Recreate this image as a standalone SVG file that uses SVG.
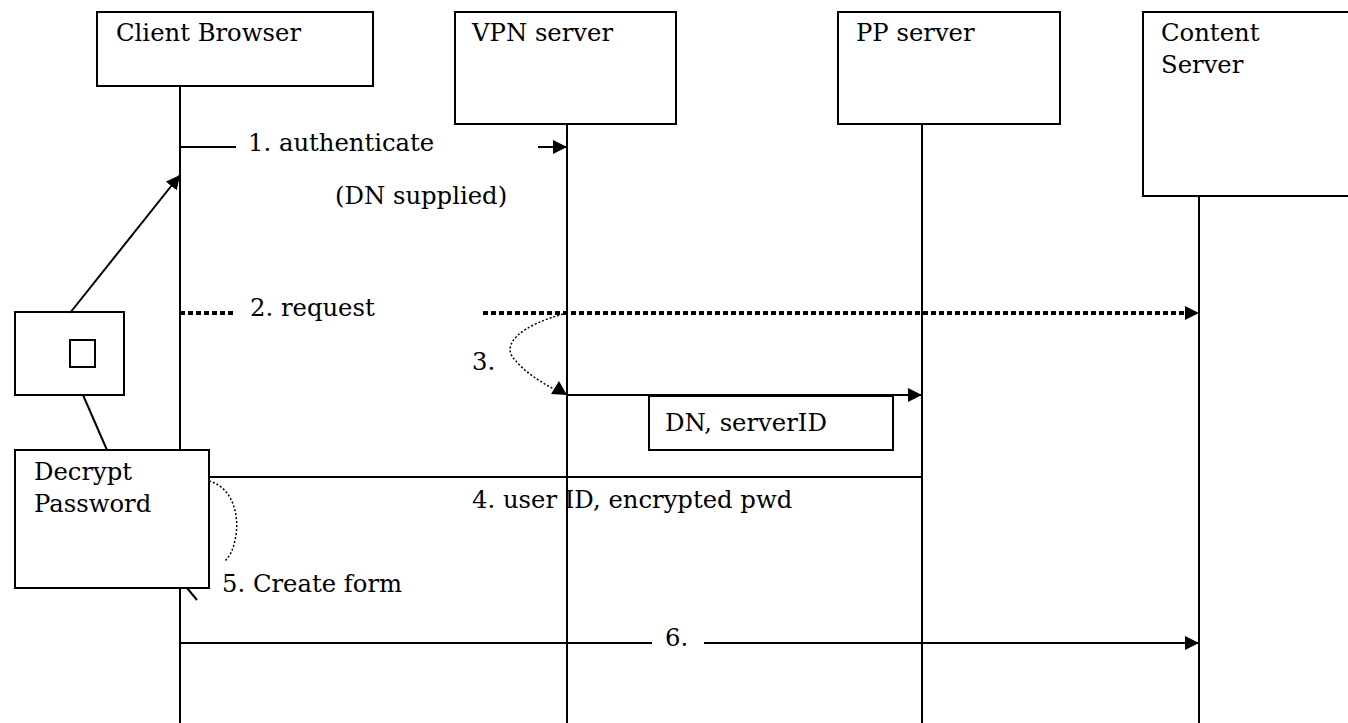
<svg xmlns="http://www.w3.org/2000/svg" width="1348" height="723" viewBox="0 0 1348 723">
<defs>
<style>
.box{fill:#fff;stroke:#000;stroke-width:2}
.life{stroke:#000;stroke-width:2;fill:none}
.msg{stroke:#000;stroke-width:2;fill:none}
.dots{stroke:#000;stroke-width:4;stroke-dasharray:5 3;fill:none}
.fine{stroke:#000;stroke-width:1.5;stroke-dasharray:2 2;fill:none}
text{font-family:"DejaVu Serif","Liberation Serif",serif;font-size:24.3px;fill:#000}
</style>
<marker id="ah" viewBox="0 0 10 10" refX="10" refY="5" markerWidth="14" markerHeight="14" markerUnits="userSpaceOnUse" orient="auto">
<path d="M0,0 L10,5 L0,10 z" fill="#000"/>
</marker>
</defs>
<g id="lifelines">
<line class="life" x1="180" y1="86" x2="180" y2="723"/>
<line class="life" x1="567" y1="124" x2="567" y2="723"/>
<line class="life" x1="922" y1="124" x2="922" y2="723"/>
<line class="life" x1="1199" y1="196" x2="1199" y2="723"/>
</g>
<g id="client"><rect class="box" x="97" y="12" width="276" height="74"/><text x="116" y="41">Client Browser</text></g>
<g id="vpn"><rect class="box" x="455" y="12" width="221" height="112"/><text x="472" y="41">VPN server</text></g>
<g id="pp"><rect class="box" x="838" y="12" width="222" height="112"/><text x="856" y="41">PP server</text></g>
<g id="content"><rect class="box" x="1143" y="12" width="215" height="184"/><text x="1161" y="41">Content</text><text x="1161" y="73">Server</text></g>
<g id="smallbox"><rect class="box" x="15" y="312" width="109" height="83"/><rect class="box" x="70" y="340" width="25" height="27"/></g>
<g id="decrypt"><rect class="box" x="15" y="450" width="194" height="138"/><text x="34" y="480">Decrypt</text><text x="34" y="512">Password</text></g>
<g id="dnbox"><rect class="box" x="649" y="396" width="244" height="54"/><text x="665" y="431">DN, serverID</text></g>
<g id="connectors">
<line class="msg" x1="180" y1="147" x2="236" y2="147"/>
<line class="msg" x1="538" y1="147" x2="567" y2="147" marker-end="url(#ah)"/>
<line class="msg" x1="70" y1="313" x2="180" y2="175" marker-end="url(#ah)"/>
<line class="msg" x1="83" y1="395" x2="107" y2="450"/>
<line class="dots" x1="180" y1="313" x2="236" y2="313"/>
<line class="dots" x1="483" y1="313" x2="1185" y2="313"/>
<path d="M1185,306 L1199,313 L1185,320 z" fill="#000"/>
<path class="fine" d="M567,313 C520,325 500,345 515,360 C525,372 540,382 556,390"/>
<path d="M551,394 L567,395 L559,381 z" fill="#000"/>
<line class="msg" x1="567" y1="395" x2="922" y2="395" marker-end="url(#ah)"/>
<line class="msg" x1="209" y1="477" x2="922" y2="477"/>
<path class="fine" d="M209,481 C235,488 240,520 235,540 C233,550 230,556 225,561"/>
<line class="msg" x1="187" y1="588" x2="197" y2="600"/>
<line class="msg" x1="180" y1="643" x2="652" y2="643"/>
<line class="msg" x1="704" y1="643" x2="1199" y2="643" marker-end="url(#ah)"/>
</g>
<g id="labels">
<text x="248" y="151">1. authenticate</text>
<text x="335" y="204">(DN supplied)</text>
<text x="250" y="316">2. request</text>
<text x="472" y="370">3.</text>
<text x="472" y="508">4. user ID, encrypted pwd</text>
<text x="222" y="592">5. Create form</text>
<text x="665" y="646">6.</text>
</g>
</svg>
